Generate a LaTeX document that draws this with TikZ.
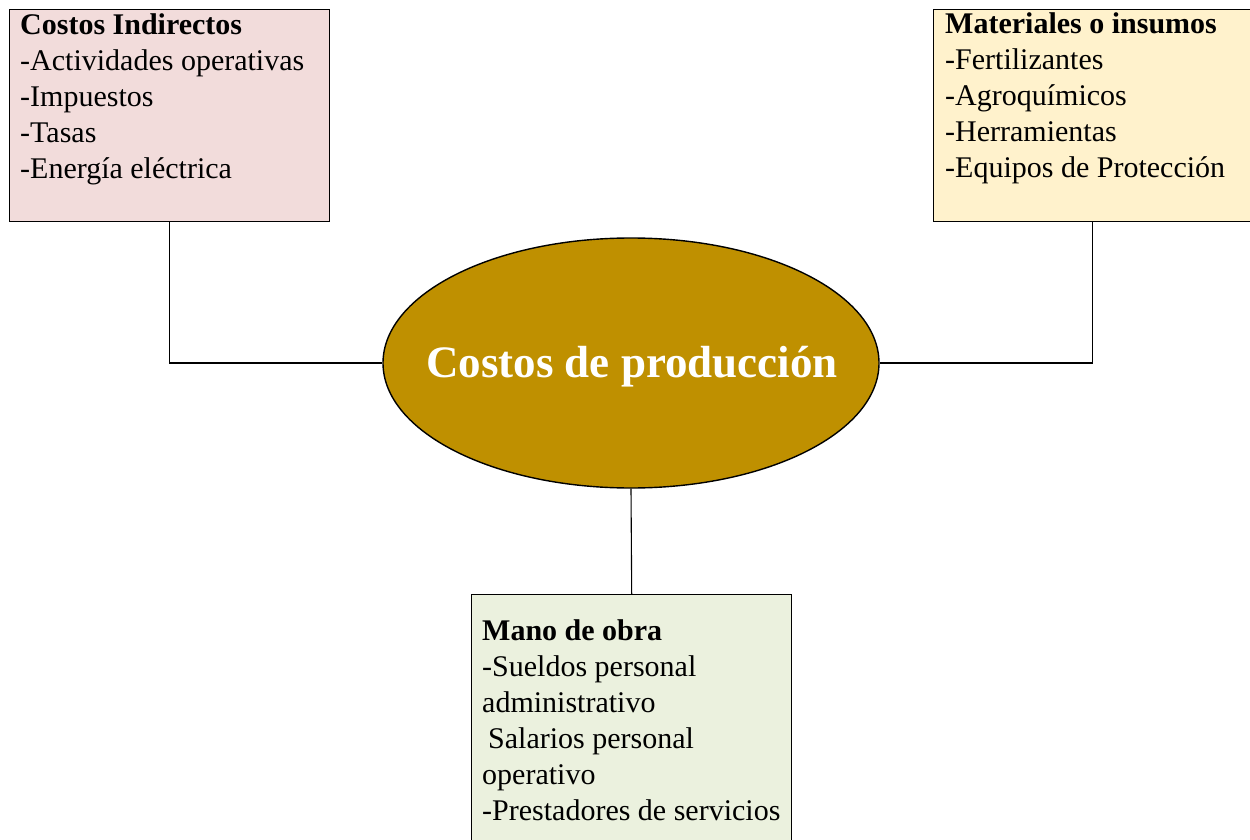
\documentclass[tikz,border=0pt]{standalone}
\usepackage{fontspec}
\setmainfont{Liberation Serif}
\usetikzlibrary{shapes.geometric}
\definecolor{pinkbox}{HTML}{F2DCDB}
\definecolor{yellowbox}{HTML}{FFF2CC}
\definecolor{greenbox}{HTML}{EBF1DE}
\definecolor{goldell}{HTML}{BF9000}
\newcommand{\tpstrut}{\rule{0pt}{22pt}}
\begin{document}
\begin{tikzpicture}[x=1pt,y=-1pt,
  boxnode/.style={draw=black,line width=1.4pt,rectangle,inner sep=0pt,anchor=north west},
  txt/.style={anchor=north west,inner sep=0pt,align=left,font=\fontsize{30}{36}\selectfont},
  conn/.style={draw=black,line width=1.1pt}]
\useasboundingbox (0,0) rectangle (1250,840);
\fill[white] (0,0) rectangle (1250,840);
\node[boxnode,fill=pinkbox,minimum width=320pt,minimum height=212pt] (lb) at (9,9) {};
\node[boxnode,fill=yellowbox,minimum width=318pt,minimum height=212pt] (rb) at (933,9) {};
\node[boxnode,fill=greenbox,minimum width=320pt,minimum height=260pt] (bb) at (471,594) {};
\node[ellipse,draw=black,line width=1.4pt,fill=goldell,minimum width=496pt,minimum height=250pt,inner sep=0pt] (ell) at (631,363) {};
\node[text=white,inner sep=0pt,font=\fontsize{45}{50}\selectfont\bfseries] (ellt) at (632,367) {Costos de producción};
\node[txt] (lt) at (20,12) {\tpstrut\textbf{Costos Indirectos}\\-Actividades operativas\\-Impuestos\\-Tasas\\-Energía eléctrica};
\node[txt] (rt) at (945,11) {\tpstrut\textbf{Materiales o insumos}\\-Fertilizantes\\-Agroquímicos\\-Herramientas\\-Equipos de Protección};
\node[txt] (bt) at (482,618) {\tpstrut\textbf{Mano de obra}\\-Sueldos personal\\administrativo\\\hspace*{6pt}Salarios personal\\operativo\\-Prestadores de servicios};
\draw[conn] (lb.south) |- (ell.west);
\draw[conn] (rb.south) |- (ell.east);
\draw[conn] (ell.south) -- (bb.north);
\end{tikzpicture}
\end{document}
